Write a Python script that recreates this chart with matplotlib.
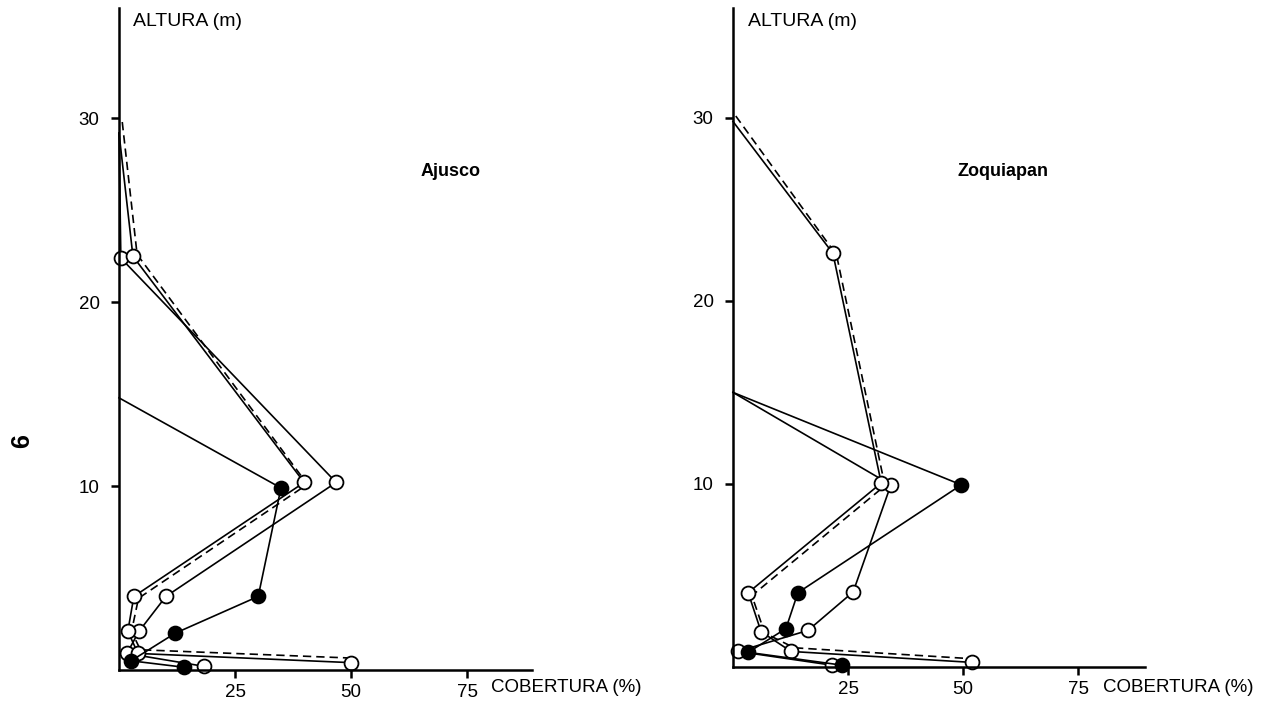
import matplotlib
matplotlib.use("Agg")
import matplotlib.pyplot as plt

plt.rcParams['font.family'] = ['Liberation Sans', 'DejaVu Sans']

# Ajusco: cobertura (%) vs altura (m)
aj_a_cob = [0.0, 3.0, 39.9, 3.2, 1.9, 4.1, 50.0]
aj_a_alt = [29.2, 22.5, 10.2, 4.0, 2.1, 0.9, 0.4]
aj_b_cob = [0.7, 3.9, 40.6, 4.2, 2.7, 4.6, 50.0]
aj_b_alt = [29.8, 22.6, 10.1, 3.9, 2.1, 1.1, 0.65]
aj_c_cob = [0.0, 0.4, 46.8, 10.1, 4.3, 1.7, 18.3]
aj_c_alt = [29.2, 22.4, 10.2, 4.0, 2.1, 0.9, 0.2]
aj_d_cob = [0.0, 34.9, 30.0, 12.1, 2.6, 14.0]
aj_d_alt = [14.8, 9.9, 4.0, 2.0, 0.5, 0.15]

# Zoquiapan
zq_a_cob = [0.0, 21.7, 32.2, 3.3, 6.1, 12.6, 52.0]
zq_a_alt = [29.8, 22.6, 10.05, 4.06, 1.93, 0.85, 0.25]
zq_b_cob = [0.6, 22.5, 33.0, 4.1, 6.9, 13.3, 52.0]
zq_b_alt = [30.1, 22.5, 9.9, 3.9, 1.85, 1.05, 0.45]
zq_c_cob = [0.0, 34.3, 26.1, 16.3, 1.1, 21.5]
zq_c_alt = [15.0, 9.95, 4.1, 2.0, 0.85, 0.1]
zq_d_cob = [0.0, 49.6, 14.1, 11.5, 3.3, 23.7]
zq_d_alt = [15.0, 9.95, 4.06, 2.1, 0.8, 0.1]

x_ticks = [25, 50, 75]
y_ticks = [10, 20, 30]

W, H = 1271, 709
fig = plt.figure(figsize=(W / 100, H / 100), dpi=100)


def make_panel(x0, y0, x1, y1, xmax, ymax):
    ax = fig.add_axes([x0 / W, 1 - y0 / H, (x1 - x0) / W, (y0 - y1) / H])
    ax.set_xlim(0, xmax)
    ax.set_ylim(0, ymax)
    for s in ['top', 'right']:
        ax.spines[s].set_visible(False)
    for s in ['left', 'bottom']:
        ax.spines[s].set_linewidth(1.8)
    ax.set_xticks(x_ticks)
    ax.set_yticks(y_ticks)
    ax.tick_params(direction='out', length=6, width=1.8, labelsize=13.5)
    ax.tick_params(axis='x', pad=4)
    ax.tick_params(axis='y', pad=8)
    return ax


def draw(ax, a, b, c, d):
    kw = dict(color='black', lw=1.2, clip_on=False, ms=10, mew=1.3, markevery=slice(1, None))
    ax.plot(c[0], c[1], marker='o', mfc='white', mec='black', **kw)
    ax.plot(b[0], b[1], ls=(0, (5, 3)), color='black', lw=1.2, clip_on=False)
    ax.plot(a[0], a[1], marker='o', mfc='white', mec='black', **kw)
    ax.plot(d[0], d[1], marker='o', mfc='black', mec='black', **kw)


ax1 = make_panel(119, 670, 532, 8, 89, 36)
draw(ax1, (aj_a_cob, aj_a_alt), (aj_b_cob, aj_b_alt), (aj_c_cob, aj_c_alt), (aj_d_cob, aj_d_alt))

ax2 = make_panel(733, 667, 1145, 8, 89.5, 36)
draw(ax2, (zq_a_cob, zq_a_alt), (zq_b_cob, zq_b_alt), (zq_c_cob, zq_c_alt), (zq_d_cob, zq_d_alt))


def ftext(px, py, s, **kw):
    fig.text(px / W, 1 - py / H, s, **kw)


ftext(133, 22, 'ALTURA (m)', fontsize=14, va='center', ha='left')
ftext(748, 22, 'ALTURA (m)', fontsize=14, va='center', ha='left')
ftext(491, 688, 'COBERTURA (%)', fontsize=13.5, va='center', ha='left')
ftext(1103, 688, 'COBERTURA (%)', fontsize=13.5, va='center', ha='left')
ftext(451, 171, 'Ajusco', fontsize=13, fontweight='bold', va='center', ha='center')
ftext(1003, 171, 'Zoquiapan', fontsize=13, fontweight='bold', va='center', ha='center')
ftext(22, 441, '6', fontsize=18, fontweight='bold', rotation=90, va='center', ha='center')

fig.savefig('out.png', dpi=100)
